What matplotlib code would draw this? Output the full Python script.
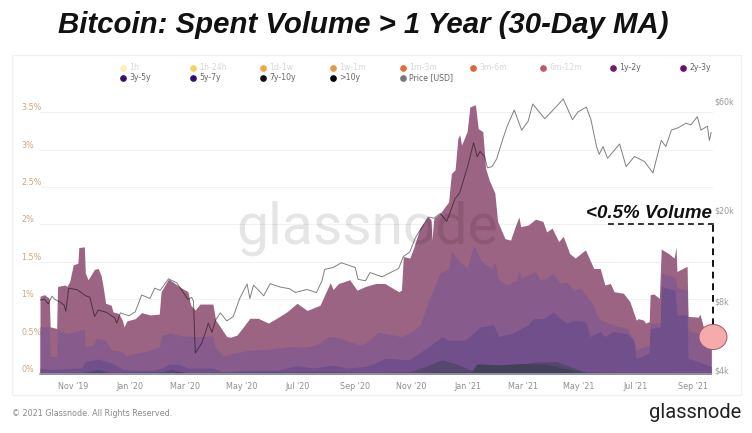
from datetime import datetime, timedelta

import matplotlib
matplotlib.use("Agg")
import matplotlib.dates as mdates
import matplotlib.pyplot as plt
from matplotlib.lines import Line2D
from matplotlib.patches import Ellipse, Rectangle
from matplotlib.ticker import FixedLocator, FuncFormatter, NullLocator

W, H = 752, 433
START = datetime(2019, 9, 26)

# ------------------------------------------------------------------------------

# Stacked tops as (days since START, percent)

TOP_1Y_2Y = [
    (0, 1.04), (5, 1.06), (10, 1.01), (11, .63), (18, .61), (19, 1.17), (27, 1.19), (29, 1.17),
    (32, 1.23), (36, 1.46), (41, 1.48), (42, 1.69), (48, 1.70), (49, 1.35), (52, 1.26), (54, 1.30),
    (59, 1.40), (63, 1.41), (66, 1.32), (68, 1.19), (71, .945), (77, .92), (79, .83), (85, .81),
    (89, .72), (91, .63), (94, .71), (103, .74), (110, .82), (119, .79), (129, .80), (131, 1.10),
    (139, 1.27), (146, 1.21), (153, 1.15), (160, 1.10), (163, .92), (168, .855), (173, .935),
    (187, .935), (190, .72), (195, .63), (202, .50), (206, .49), (213, .52), (220, .63), (227, .745),
    (236, .745), (247, .68), (256, .745), (267, .83), (278, .945), (289, .85), (303, .92), (308, 1.06),
    (314, 1.22), (317, 1.13), (323, 1.21), (328, 1.23), (335, 1.26), (343, 1.12), (352, 1.17),
    (363, 1.21), (373, 1.21), (388, 1.10), (391, 1.12), (393, 1.57), (400, 1.55), (404, 1.68),
    (411, 1.95), (420, 2.10), (423, 2.06), (424, 1.79), (426, 2.08), (433, 2.15), (442, 2.30),
    (445, 2.68), (449, 2.73), (452, 3.15), (454, 3.20), (456, 3.06), (462, 3.24), (465, 3.57),
    (471, 3.60), (474, 3.28), (479, 3.24), (482, 2.75), (486, 2.59), (492, 2.42), (495, 2.04),
    (503, 1.81), (509, 1.79), (514, 1.97), (518, 2.10), (520, 1.97), (528, 1.99), (536, 2.07),
    (544, 2.04), (548, 1.90), (554, 1.95), (561, 1.77), (566, 1.84), (573, 1.61), (579, 1.55),
    (590, 1.66), (599, 1.41), (606, 1.41), (611, 1.19), (617, 1.21), (621, 1.10), (631, 1.08),
    (638, .97), (645, .72), (647, .74), (653, .72), (655, .68), (659, .70), (660, 1.06), (664, 1.07),
    (670, 1.01), (672, 1.67), (680, 1.61), (686, 1.55), (688, 1.70), (689, 1.37), (700, 1.44),
    (701, .77), (712, .76), (714, .80), (718, .61), (726, .54),
]

TOP_2Y_3Y = [
    (0, .63), (10, .63), (11, .24), (18, .23), (19, .59), (29, .54), (48, .60), (49, .365), (58, .39),
    (61, .48), (70, .455), (78, .32), (89, .30), (93, .24), (103, .28), (114, .30), (129, .365),
    (132, .52), (141, .55), (153, .51), (168, .50), (187, .51), (189, .365), (198, .24), (209, .28),
    (227, .32), (245, .33), (267, .365), (289, .36), (299, .39), (312, .50), (323, .49), (335, .43),
    (346, .39), (352, .41), (366, .56), (391, .50), (399, .54), (411, .655), (420, .97), (433, 1.35),
    (442, 1.41), (445, 1.64), (453, 1.52), (462, 1.41), (469, 1.72), (478, 1.50), (489, 1.41),
    (492, 1.50), (496, 1.26), (505, 1.19), (516, 1.26), (518, 1.39), (521, 1.28), (536, 1.37),
    (541, 1.26), (548, 1.28), (555, 1.35), (563, 1.21), (570, 1.23), (577, 1.12), (584, 1.15),
    (592, 1.03), (599, .92), (604, .74), (611, .70), (620, .655), (635, .61), (643, .45), (645, .32),
    (653, .365), (659, .39), (660, .68), (671, .68), (672, 1.35), (687, 1.29), (689, 1.15), (700, 1.12),
    (701, .59), (712, .54), (726, .37),
]

TOP_3Y_5Y = [
    (0, .08), (11, .06), (45, .08), (49, .165), (63, .20), (79, .14), (89, .06), (103, .05), (121, .05),
    (132, .08), (139, .13), (150, .13), (160, .08), (187, .08), (198, .03), (227, .05), (256, .05),
    (278, .11), (296, .08), (317, .12), (332, .08), (352, .10), (366, .165), (373, .21), (399, .19),
    (413, .30), (435, .50), (442, .45), (460, .45), (476, .63), (491, .655), (496, .50), (510, .54),
    (528, .655), (534, .74), (545, .74), (555, .83), (563, .74), (570, .68), (577, .72), (590, .70),
    (595, .50), (606, .57), (611, .50), (620, .57), (635, .54), (642, .45), (645, .21), (659, .28),
    (660, .61), (671, .63), (672, 1.17), (687, 1.12), (689, .79), (700, .79), (701, .21), (712, .165),
    (726, .10),
]

TOP_5Y_7Y = [
    (0, .02), (45, .02), (63, .06), (77, .02), (132, .03), (142, .06), (153, .03), (160, .02), (278, .03),
    (317, .03), (357, .02), (399, .03), (417, .10), (435, .19), (453, .12), (467, .05), (474, .14),
    (496, .12), (521, .13), (536, .16), (559, .165), (573, .10), (590, .03), (638, .02), (726, .02),
]

TOP_7Y_10Y = [
    (0, .015), (45, .015), (63, .03), (77, .01), (132, .01), (150, .03), (160, .01), (278, .015), (400, .01),
    (435, .03), (468, .03), (472, .13), (496, .12), (520, .14), (548, .13), (565, .08), (590, .02), (726, .01),
]

PRICE = [
    (0, 8070), (5, 8150), (9, 7770), (13, 8400), (16, 8130), (22, 7900), (26, 7680), (28, 7220), (31, 9090),
    (40, 8970), (49, 8450), (54, 8300), (59, 6840), (63, 7300), (72, 7140), (81, 6740), (83, 6400), (87, 7100),
    (96, 6900), (103, 7170), (110, 8500), (119, 8200), (124, 9100), (130, 8900), (139, 10000), (148, 9600),
    (155, 8720), (160, 8130), (164, 8300), (166, 8000), (168, 4740), (175, 5250), (179, 5840), (182, 6400),
    (186, 5840), (190, 6600), (195, 7100), (202, 6550), (209, 6840), (216, 8200), (224, 9500), (227, 8200),
    (231, 9380), (238, 8780), (242, 8430), (249, 9520), (260, 9200), (270, 9050), (276, 8720), (289, 8980),
    (299, 8700), (305, 9800), (308, 11000), (317, 11200), (326, 11750), (341, 11200), (344, 9950), (352, 9800),
    (357, 10650), (370, 10200), (388, 11100), (393, 12500), (400, 13100), (406, 15100), (420, 18600), (426, 18400),
    (433, 19300), (440, 17800), (449, 22400), (454, 23700), (463, 31400), (469, 39300), (473, 34100), (476, 36000),
    (481, 34100), (484, 30500), (489, 30900), (494, 33400), (500, 40000), (505, 46000), (513, 54600), (521, 44600),
    (528, 48700), (533, 58000), (546, 50000), (558, 56200), (566, 61000), (576, 49500), (582, 53600), (591, 56200),
    (596, 49500), (602, 37800), (605, 35000), (609, 37800), (614, 33600), (627, 38800), (634, 30900), (643, 34200),
    (654, 32500), (663, 29000), (672, 40200), (677, 37800), (683, 44600), (690, 45600), (699, 47800), (704, 47000),
    (711, 51000), (715, 44600), (722, 46400), (724, 40200), (726, 43500),
]

LAYERS = [
    (TOP_1Y_2Y, "#9c6483"),
    (TOP_2Y_3Y, "#875c8d"),
    (TOP_3Y_5Y, "#704f8b"),
    (TOP_5Y_7Y, "#56476f"),
    (TOP_7Y_10Y, "#43415a"),
]

LEGEND = [
    ("1h", "#fdf0b4", "#d8d8d8"), ("1h-24h", "#f5d25f", "#d8d8d8"), ("1d-1w", "#eda840", "#d8d8d8"),
    ("1w-1m", "#e8964a", "#d8d8d8"), ("1m-3m", "#dc7038", "#d8d8d8"), ("3m-6m", "#d96a3a", "#d8d8d8"),
    ("6m-12m", "#c05a6a", "#d8d8d8"), ("1y-2y", "#6b1f6b", "#666666"), ("2y-3y", "#6a0f6a", "#666666"),
    ("3y-5y", "#38106b", "#666666"), ("5y-7y", "#2e0f6b", "#666666"), ("7y-10y", "#111111", "#666666"),
    (">10y", "#000000", "#666666"), ("Price [USD]", "#777777", "#666666"),
]


def to_dates(points):
    return [START + timedelta(days=d) for d, _ in points]


def fx(px):
    return px / W


def fy(py):
    return 1 - py / H


# ------------------------------------------------------------------------------

fig = plt.figure(figsize=(W / 100, H / 100), dpi=100, facecolor="white")
fig.add_artist(Rectangle((fx(12), fy(395)), fx(729), 340 / H, transform=fig.transFigure,
                         facecolor="white", edgecolor="#f1f1f1", linewidth=1, zorder=-1))

ax = fig.add_axes([fx(40), fy(374), fx(673), 300 / H], facecolor="none")
for spine in ax.spines.values():
    spine.set_visible(False)

ax.set_ylim(0, 4.01)
ax.set_xlim(START, START + timedelta(days=728))
ax.yaxis.grid(True, color="#f1f1f1", linewidth=0.8)
ax.set_axisbelow(True)

for points, colour in LAYERS:
    ax.fill_between(to_dates(points), 0, [v for _, v in points], color=colour, linewidth=0, zorder=2)
ax.plot(to_dates([(0, 0), (726, 0)]), [0, 0], color="#9d9db0", linewidth=1.2, zorder=3, clip_on=False)

ax.set_yticks([0, .5, 1, 1.5, 2, 2.5, 3, 3.5])
ax.set_yticklabels(["0%", "0.5%", "1%", "1.5%", "2%", "2.5%", "3%", "3.5%"])
ax.tick_params(axis="y", length=0, pad=13.5, labelsize=5.8, labelcolor="#cfa77f")
for label in ax.get_yticklabels():
    label.set_ha("left")
    label.set_va("bottom")

ax.xaxis.set_major_locator(mdates.MonthLocator(bymonth=[1, 3, 5, 7, 9, 11]))
ax.xaxis.set_major_formatter(mdates.DateFormatter("%b '%y"))
ax.tick_params(axis="x", length=0, pad=6, labelsize=5.8, labelcolor="#8f8f8f")

# price on a log scale
ax2 = ax.twinx()
for spine in ax2.spines.values():
    spine.set_visible(False)
ax2.set_yscale("log")
ax2.set_ylim(3840, 78400)
ax2.plot(to_dates(PRICE), [v for _, v in PRICE], color="black", alpha=0.5, linewidth=0.7, zorder=5)
ax2.yaxis.set_major_locator(FixedLocator([4000, 8000, 20000, 60000]))
ax2.yaxis.set_minor_locator(NullLocator())
ax2.yaxis.set_major_formatter(FuncFormatter(lambda v, _: f"${v / 1000:.0f}k"))
ax2.tick_params(axis="y", which="major", length=0, pad=1, labelsize=5.8, labelcolor="#9a9a9a")

# watermark
fig.text(fx(367), fy(228), "glassnode", fontsize=41, family="Roboto", color="black", alpha=0.1,
         ha="center", va="center", zorder=6)

# legend
columns = [123, 193, 263, 333, 403, 473, 543, 613, 683]
for i, (name, dot, text_colour) in enumerate(LEGEND):
    x = columns[i % 9]
    y = 67.5 if i < 9 else 77.5
    fig.add_artist(Line2D([fx(x)], [fy(y)], marker="o", markersize=3.8, color=dot, linewidth=0,
                          transform=fig.transFigure))
    fig.text(fx(x + 6), fy(y), name, fontsize=5.6, color=text_colour, ha="left", va="center")

# annotation
fig.text(fx(363), fy(25), "Bitcoin: Spent Volume > 1 Year (30-Day MA)", fontsize=21.2, family="Liberation Sans",
         weight="bold", style="italic", color="#111111", ha="center", va="center")
fig.text(fx(586), fy(213), "<0.5% Volume", fontsize=13.5, family="Liberation Sans",
         weight="bold", style="italic", color="#111111", ha="left", va="center")
fig.add_artist(Line2D([fx(608), fx(715)], [fy(224.5), fy(224.5)], color="#111111", linewidth=1.2,
                      linestyle=(0, (3.5, 2.5)), transform=fig.transFigure))
fig.add_artist(Line2D([fx(713), fx(713)], [fy(225), fy(325)], color="#111111", linewidth=1.4,
                      linestyle=(0, (3.5, 2.5)), transform=fig.transFigure))

ellipse = Ellipse((fx(713), fy(337)), fx(28), 25 / H, transform=fig.transFigure, facecolor="#f5abab",
                  edgecolor="#9c5a68", linewidth=0.7, zorder=7)
fig.add_artist(ellipse)

# footer
fig.text(fx(12), fy(414), "© 2021 Glassnode. All Rights Reserved.", fontsize=5.8, color="#8a8a8a",
         ha="left", va="center")
fig.text(fx(741), fy(413), "glassnode", fontsize=14.5, family="Roboto", color="#222222", ha="right", va="center")

fig.savefig("out.png", dpi=100, facecolor="white")
